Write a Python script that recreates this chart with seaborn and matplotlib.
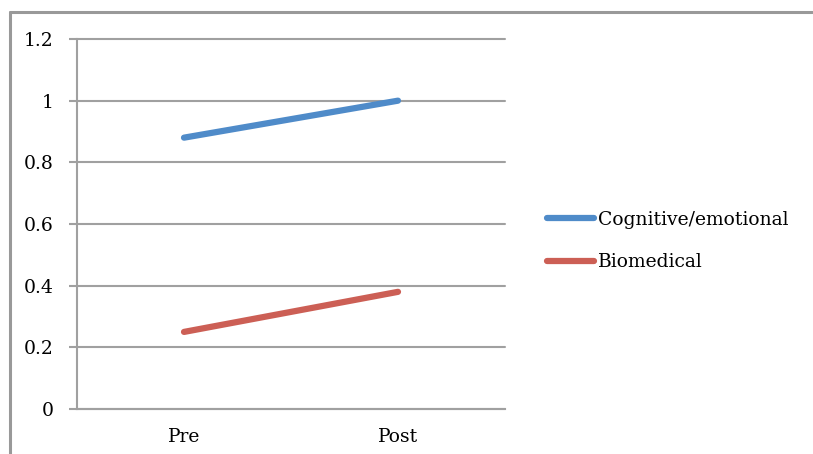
import pandas as pd
import matplotlib
matplotlib.use("Agg")
import matplotlib.pyplot as plt
from matplotlib.lines import Line2D
import seaborn as sns

# --- Data ---
phases = ["Pre", "Post"]
cognitive = [0.88, 1.0]
biomedical = [0.25, 0.38]
series_names = ["Cognitive/emotional", "Biomedical"]
y_ticks = [0, 0.2, 0.4, 0.6, 0.8, 1.0, 1.2]
y_labels = ["0", "0.2", "0.4", "0.6", "0.8", "1", "1.2"]

df = pd.DataFrame({
    "phase": phases * 2,
    "pos": list(range(len(phases))) * 2,
    "value": cognitive + biomedical,
    "series": [series_names[0]] * len(phases) + [series_names[1]] * len(phases),
})

# --- Style ---
sns.set_style("white")
plt.rcParams["font.family"] = ["DejaVu Serif"]
plt.rcParams["text.color"] = "black"
grid_col = "#a0a0a0"
palette = {series_names[0]: "#4F8BC9", series_names[1]: "#CC5F55"}
fs = 13.5

W, H = 813, 454
fig = plt.figure(figsize=(W / 100, H / 100), dpi=100)
ax = fig.add_axes([77 / W, 1 - 409 / H, (505 - 77) / W, (409 - 39) / H])

sns.lineplot(data=df, x="pos", y="value", hue="series", palette=palette,
             linewidth=4.5, solid_capstyle="round", ax=ax, legend=False)

ax.set_xlim(-0.5, len(phases) - 0.5)
ax.set_ylim(0, 1.2)
ax.set_xticks(range(len(phases)))
ax.set_xticklabels(phases, fontsize=fs, color="black")
ax.set_xticks([-0.5, 0.5, 1.5], minor=True)
ax.tick_params(axis="x", which="major", length=0, pad=14)
ax.tick_params(axis="x", which="minor", length=5, width=1.5, color=grid_col, direction="out")
ax.set_yticks(y_ticks)
ax.set_yticklabels(y_labels, fontsize=fs, color="black")
ax.tick_params(axis="y", length=6, width=1.5, color=grid_col, direction="out", pad=11, left=True)
ax.yaxis.grid(True, color=grid_col, linewidth=1.5)
for gl in ax.get_ygridlines():
    gl.set_clip_on(False)
ax.set_axisbelow(True)
ax.set_xlabel("")
ax.set_ylabel("")
for side in ["top", "right"]:
    ax.spines[side].set_visible(False)
for side in ["left", "bottom"]:
    ax.spines[side].set_color(grid_col)
    ax.spines[side].set_linewidth(1.5)

# Legend
handles = [Line2D([0], [0], color=palette[n], linewidth=4.5, solid_capstyle="round")
           for n in series_names]
fig.legend(handles, series_names, loc="upper left",
           bbox_to_anchor=(530 / W, 1 - 194 / H), frameon=False,
           fontsize=fs, handlelength=2.5, handletextpad=0.2, labelspacing=1.3)

# Outer chart border (left and top only visible)
fig.add_artist(Line2D([10 / W, 10 / W], [0, 1 - 12 / H], color="#999999", linewidth=2.2))
fig.add_artist(Line2D([10 / W, 812 / W], [1 - 12 / H, 1 - 12 / H], color="#999999", linewidth=2.2))

fig.savefig("out.png", dpi=100)
